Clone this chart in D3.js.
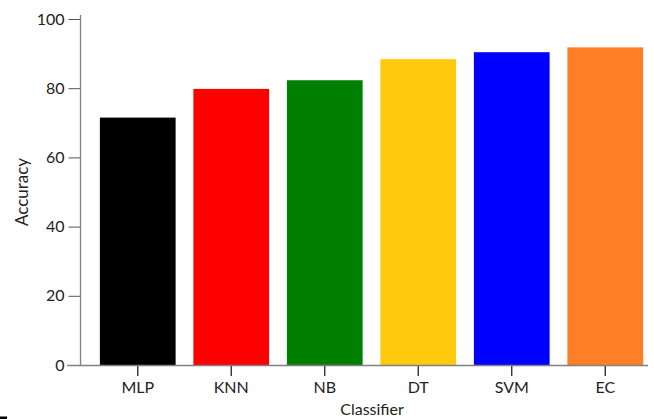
<!DOCTYPE html>
<html>
<head>
<meta charset="utf-8">
<script src="https://cdn.jsdelivr.net/npm/d3@7"></script>
<style>
  html, body { margin: 0; padding: 0; background: #fff; }
  svg { display: block; }
  text { font-family: Lato, "Open Sans", sans-serif; fill: #222; }
</style>
</head>
<body>
<svg id="chart" width="654" height="419"></svg>
<script>
const categories = ["MLP", "KNN", "NB", "DT", "SVM", "EC"];
const accuracy = [71.5, 79.8, 82.3, 88.4, 90.4, 91.8];
const barColors = ["#000000", "#ff0000", "#007f00", "#ffc90e", "#0000ff", "#ff7f27"];
const yTicks = [0, 20, 40, 60, 80, 100];
const xTitle = "Classifier";
const yTitle = "Accuracy";

const svg = d3.select("#chart");
const axisX = 80.5, baseY = 365;

const x = d3.scaleBand()
  .domain(categories)
  .range([91, 652])
  .paddingInner(0.19)
  .paddingOuter(0.095);

const y = d3.scaleLinear().domain([0, 100]).range([baseY, 19]);

// bars
svg.append("g").selectAll("rect")
  .data(categories)
  .join("rect")
  .attr("x", d => x(d))
  .attr("width", x.bandwidth())
  .attr("y", (d, i) => y(accuracy[i]))
  .attr("height", (d, i) => y(0) - y(accuracy[i]))
  .attr("fill", (d, i) => barColors[i]);

// y axis
const gy = svg.append("g")
  .attr("transform", `translate(${axisX},0)`)
  .call(d3.axisLeft(y).tickValues(yTicks).tickSize(12).tickPadding(4));
gy.select(".domain").remove();
gy.selectAll(".tick line").attr("stroke", "#555");
gy.selectAll(".tick text").style("font-size", "16px").attr("fill", "#222").style("font-family", "Lato, sans-serif");
svg.append("line")
  .attr("x1", axisX).attr("x2", axisX)
  .attr("y1", 15).attr("y2", baseY)
  .attr("stroke", "#808080").attr("stroke-width", 1.3);

// x axis
const gx = svg.append("g")
  .attr("transform", `translate(0,${baseY})`)
  .call(d3.axisBottom(x).tickSize(11).tickPadding(6));
gx.select(".domain").remove();
gx.selectAll(".tick line").attr("stroke", "#222").attr("stroke-width", 1.3);
gx.selectAll(".tick text").style("font-size", "16px").attr("fill", "#222").style("font-family", "Lato, sans-serif");
svg.append("line")
  .attr("x1", 67).attr("x2", 648)
  .attr("y1", baseY + 0.5).attr("y2", baseY + 0.5)
  .attr("stroke", "#808080").attr("stroke-width", 1.3);

// titles
svg.append("text")
  .attr("x", 372).attr("y", 415)
  .attr("text-anchor", "middle")
  .style("font-size", "16px")
  .text(xTitle);
svg.append("text")
  .attr("transform", "translate(28,192) rotate(-90)")
  .attr("text-anchor", "middle")
  .style("font-size", "17px")
  .text(yTitle);

// small corner mark present in the reference image
svg.append("rect")
  .attr("x", 0).attr("y", 416.5).attr("width", 7).attr("height", 2.5)
  .attr("fill", "#000");
</script>
</body>
</html>
